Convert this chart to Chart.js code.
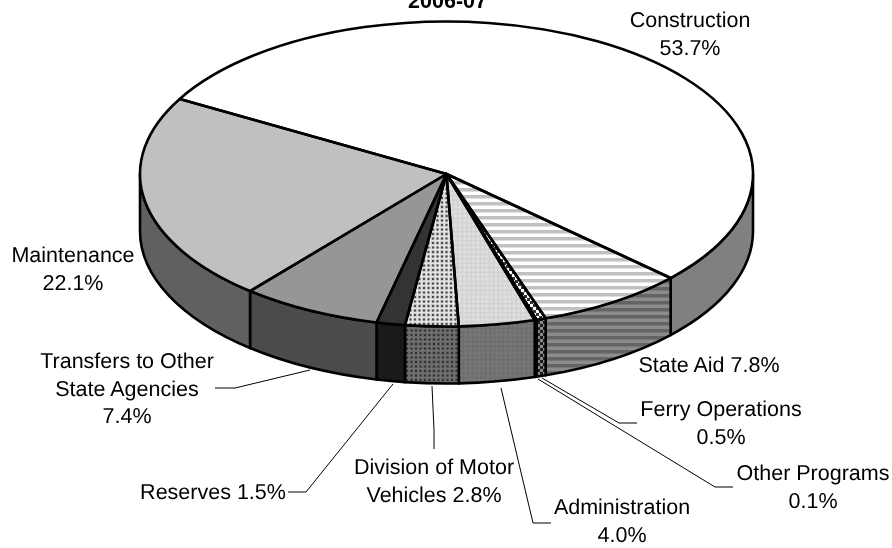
<!DOCTYPE html>
<html><head><meta charset="utf-8">
<style>html,body{margin:0;padding:0;background:#fff;overflow:hidden}canvas{display:block}</style>
<script src="https://cdn.jsdelivr.net/npm/chart.js@4"></script>
</head><body><canvas id="c" width="892" height="548"></canvas>
<script>
const titleText = "2006-07";
const categories = ["Construction","State Aid","Ferry Operations","Other Programs","Administration","Division of Motor Vehicles","Reserves","Transfers to Other State Agencies","Maintenance"];
const shares = [53.7,7.8,0.5,0.1,4.0,2.8,1.5,7.4,22.1];
const labelLines = [["Construction","53.7%"],["State Aid 7.8%"],["Ferry Operations","0.5%"],["Other Programs","0.1%"],["Administration","4.0%"],["Division of Motor","Vehicles 2.8%"],["Reserves 1.5%"],["Transfers to Other","State Agencies","7.4%"],["Maintenance","22.1%"]];

// layout (screen pixels), separate from the data
const CX=446.5, CY=174, RX=306.5, RY=152.5, DEPTH=57, K=RY/RX;
const labelAnchor=[[690,21],[709,366],[721,410],[813,474],[622,508],[434,468],[213,493],[127,362],[73,256]];
const LINE_H=27.6;
const leaders=[null,null,
 [[542,378],[619,423],[637,423]],
 [[538,379],[715,487],[733,487]],
 [[501,388],[533,523],[551,523]],
 [[432,386],[434,430],[434,449]],
 [[393,384],[306,492],[288,492]],
 [[310,370],[235,388],[215,388]],
 null];

function tile(w,h,draw){const c=document.createElement('canvas');c.width=w;c.height=h;draw(c.getContext('2d'));return c;}
function pat(c,sy){const p=document.createElement('canvas').getContext('2d').createPattern(c,'repeat');if(sy!==1)p.setTransform(new DOMMatrix().scale(1,sy));return p;}
function stripes(a,b){return tile(4,7,g=>{g.fillStyle=a;g.fillRect(0,0,4,7);g.fillStyle=b;g.fillRect(0,0,4,3);g.globalAlpha=.5;g.fillRect(0,3,4,1);});}
function dots(base,dot,halo){return tile(9,9,g=>{g.fillStyle=base;g.fillRect(0,0,9,9);
  [[1,1],[5.5,1],[1,5.5],[5.5,5.5]].forEach(([x,y])=>{g.fillStyle=halo;g.fillRect(x-1,y-1,4,4);g.fillStyle=dot;g.fillRect(x,y,2,2);});});}
function checks(a,b){return tile(6,6,g=>{g.fillStyle=a;g.fillRect(0,0,6,6);g.fillStyle=b;g.fillRect(0,0,3,3);g.fillRect(3,3,3,3);});}

const S=1/K;
const topFill=["#ffffff",pat(stripes("#ffffff","#c0c0c0"),S),pat(checks("#ffffff","#333333"),S),"#ffffff",
  pat(dots("#cfcfcf","#e2e2e2","#d8d8d8"),S),pat(dots("#ffffff","#4a4a4a","#c8c8c8"),S),"#333333","#969696","#c0c0c0"];
const wallFill=["#808080",pat(stripes("#8c8c8c","#646464"),1),pat(checks("#8a8a8a","#1c1c1c"),1),"#808080",
  pat(dots("#6c6c6c","#7a7a7a","#727272"),1),pat(dots("#7c7c7c","#333333","#646464"),1),"#1a1a1a","#4b4b4b","#606060"];

const TAU=Math.PI*2;
function frontSpans(a,b){ // parts of [a,b] facing the viewer (sin>0)
  const out=[];
  for(let k=-2;k<=2;k++){const s=Math.max(a,k*TAU),e=Math.min(b,k*TAU+Math.PI);if(e>s)out.push([s,e]);}
  return out;
}
function ang(el){const p=el.getProps(['startAngle','endAngle'],true);return [p.startAngle,p.endAngle];}

const pie3d={id:'pie3d',
 beforeDatasetsDraw(chart){
  const ctx=chart.ctx,arcs=chart.getDatasetMeta(0).data;
  ctx.save();ctx.lineWidth=2.6;ctx.strokeStyle="#000";ctx.lineJoin='round';
  arcs.forEach((el,i)=>{const [a,b]=ang(el);
   frontSpans(a,b).forEach(([s,e])=>{
    ctx.beginPath();ctx.ellipse(CX,CY,RX,RY,0,s,e);ctx.ellipse(CX,CY+DEPTH,RX,RY,0,e,s,true);ctx.closePath();
    ctx.fillStyle=wallFill[i];ctx.fill();ctx.stroke();});});
  ctx.restore();
  const el=arcs[0];
  ctx.save();ctx.translate(CX,CY);ctx.scale(1,K);ctx.translate(-el.x,-el.y);
 },
 afterDatasetsDraw(chart){
  const ctx=chart.ctx;ctx.restore();
  const arcs=chart.getDatasetMeta(0).data;
  ctx.save();ctx.lineWidth=2.6;ctx.strokeStyle="#000";ctx.lineJoin='round';
  arcs.forEach(el=>{const [a,b]=ang(el);
   ctx.beginPath();ctx.moveTo(CX,CY);ctx.ellipse(CX,CY,RX,RY,0,a,b);ctx.closePath();ctx.stroke();});
  ctx.restore();
  ctx.save();ctx.strokeStyle="#000";ctx.lineWidth=1;
  leaders.forEach(l=>{if(!l)return;ctx.beginPath();l.forEach((p,i)=>i?ctx.lineTo(p[0],p[1]):ctx.moveTo(p[0],p[1]));ctx.stroke();});
  ctx.fillStyle="#000";ctx.font='21.5px "Liberation Sans", Arial, sans-serif';ctx.textAlign='center';ctx.textBaseline='middle';
  ctx.textRendering='geometricPrecision';
  labelLines.forEach((ls,i)=>{const [x,y]=labelAnchor[i];ls.forEach((t,j)=>ctx.fillText(t,x,y+j*LINE_H));});
  ctx.restore();
 }};

new Chart(document.getElementById('c'),{
 type:'pie',
 data:{labels:categories,datasets:[{data:shares,backgroundColor:topFill,borderWidth:0,clip:{left:200,right:200,top:300,bottom:300}}]},
 options:{responsive:false,animation:false,events:[],rotation:299.5,radius:RX,
  layout:{padding:{left:3}},
  plugins:{legend:{display:false},tooltip:{enabled:false},
   title:{display:true,text:titleText,color:"#000",font:{family:'"Liberation Sans", Arial, sans-serif',size:21.5,weight:'bold'},padding:{top:-11,bottom:0}}}},
 plugins:[pie3d]});
</script></body></html>
